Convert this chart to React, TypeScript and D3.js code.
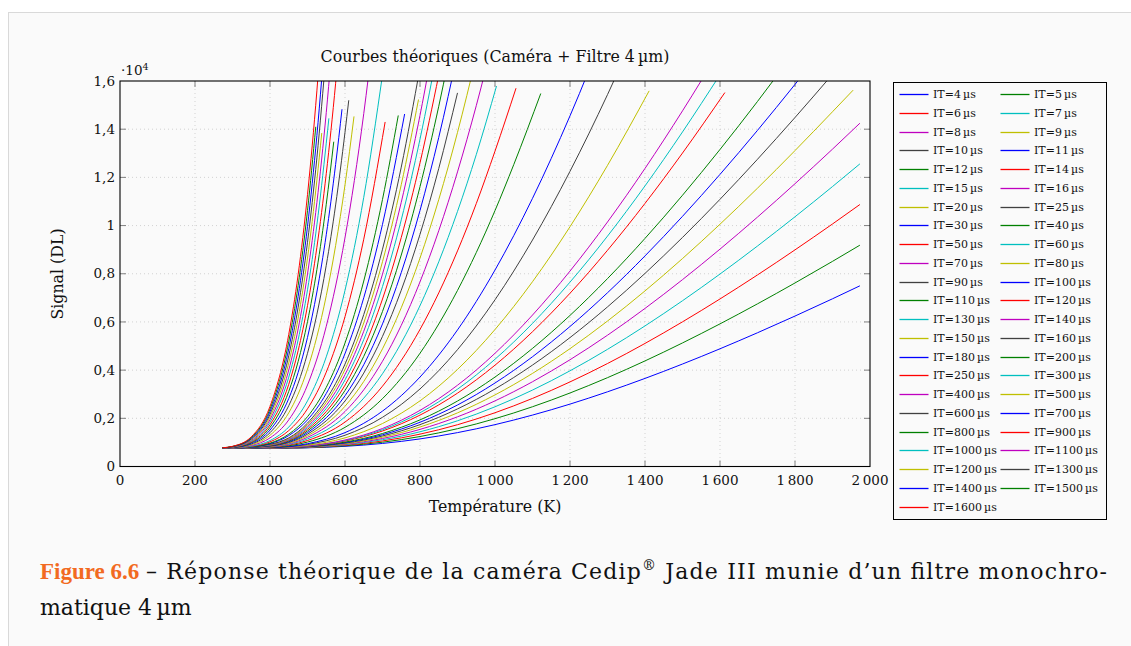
import React from 'react';
import * as d3 from 'd3';

// integration times (µs), one curve each, in legend order
const integrationTimes = [
  4, 5, 6, 7, 8, 9, 10, 11, 12, 14, 15, 16, 20, 25, 30, 40, 50, 60, 70, 80, 90, 100, 110, 120,
  130, 140, 150, 160, 180, 200, 250, 300, 400, 500, 600, 700, 800, 900, 1000, 1100, 1200, 1300,
  1400, 1500, 1600,
];

// matlab style colour cycle
const lineColors = ['#0000ff', '#008000', '#ff0000', '#00bfbf', '#bf00bf', '#bfbf00', '#404040'];

const xTicks = [0, 200, 400, 600, 800, 1000, 1200, 1400, 1600, 1800, 2000];
const yTicks = [0, 2000, 4000, 6000, 8000, 10000, 12000, 14000, 16000];

// [temperature K, signal DL]
const signalCurves: [number, number][][] = [
  /* 4 */ [[273, 750], [400, 754], [500, 776], [600, 837], [700, 957], [800, 1145], [900, 1406], [1000, 1737], [1100, 2134], [1200, 2590], [1300, 3100], [1400, 3656], [1500, 4253], [1600, 4886], [1700, 5551], [1800, 6244], [1900, 6961], [1973, 7499]],
  /* 5 */ [[273, 750], [400, 755], [500, 783], [600, 859], [700, 1008], [800, 1244], [900, 1570], [1000, 1984], [1100, 2480], [1200, 3051], [1300, 3687], [1400, 4382], [1500, 5129], [1600, 5920], [1700, 6751], [1800, 7618], [1900, 8514], [1973, 9186]],
  /* 6 */ [[273, 750], [400, 757], [500, 789], [600, 881], [700, 1060], [800, 1343], [900, 1734], [1000, 2231], [1100, 2826], [1200, 3511], [1300, 4274], [1400, 5108], [1500, 6004], [1600, 6954], [1700, 7951], [1800, 8991], [1900, 10066], [1973, 10873]],
  /* 7 */ [[273, 750], [400, 758], [500, 796], [600, 903], [700, 1112], [800, 1441], [900, 1898], [1000, 2478], [1100, 3172], [1200, 3971], [1300, 4862], [1400, 5835], [1500, 6880], [1600, 7988], [1700, 9151], [1800, 10365], [1900, 11619], [1973, 12560]],
  /* 8 */ [[273, 750], [400, 759], [500, 803], [600, 925], [700, 1163], [800, 1540], [900, 2062], [1000, 2724], [1100, 3518], [1200, 4431], [1300, 5449], [1400, 6561], [1500, 7756], [1600, 9022], [1700, 10352], [1800, 11738], [1900, 13172], [1973, 14248]],
  /* 9 */ [[273, 750], [400, 760], [500, 809], [600, 947], [700, 1215], [800, 1639], [900, 2226], [1000, 2971], [1100, 3864], [1200, 4891], [1300, 6037], [1400, 7288], [1500, 8631], [1600, 10056], [1700, 11552], [1800, 13112], [1900, 14724], [1955, 15620]],
  /* 10 */ [[273, 750], [400, 761], [500, 816], [600, 969], [700, 1267], [800, 1738], [900, 2390], [1000, 3218], [1100, 4210], [1200, 5351], [1300, 6624], [1400, 8014], [1500, 9507], [1600, 11090], [1700, 12752], [1800, 14485], [1900, 16277]],
  /* 11 */ [[273, 750], [400, 762], [500, 822], [600, 991], [700, 1318], [800, 1836], [900, 2553], [1000, 3465], [1100, 4556], [1200, 5811], [1300, 7211], [1400, 8740], [1500, 10383], [1600, 12124], [1700, 13952], [1800, 15859], [1900, 17830]],
  /* 12 */ [[273, 750], [400, 763], [500, 829], [600, 1012], [700, 1370], [800, 1935], [900, 2717], [1000, 3712], [1100, 4902], [1200, 6271], [1300, 7799], [1400, 9467], [1500, 11258], [1600, 13158], [1700, 15152], [1800, 17232]],
  /* 14 */ [[273, 750], [400, 765], [500, 842], [600, 1056], [700, 1474], [800, 2133], [900, 3045], [1000, 4205], [1100, 5594], [1200, 7191], [1300, 8974], [1400, 10920], [1500, 13010], [1613, 15520]],
  /* 15 */ [[273, 750], [400, 766], [500, 849], [600, 1078], [700, 1525], [800, 2231], [900, 3209], [1000, 4452], [1100, 5940], [1200, 7652], [1300, 9561], [1400, 11646], [1500, 13886], [1600, 16260]],
  /* 16 */ [[273, 750], [400, 767], [500, 855], [600, 1100], [700, 1577], [800, 2330], [900, 3373], [1000, 4699], [1100, 6286], [1200, 8112], [1300, 10148], [1400, 12372], [1500, 14761], [1600, 17294]],
  /* 20 */ [[273, 750], [400, 772], [500, 882], [600, 1187], [700, 1784], [800, 2725], [900, 4029], [1000, 5686], [1100, 7670], [1200, 9952], [1300, 12498], [1411, 15590]],
  /* 25 */ [[273, 750], [400, 777], [500, 915], [600, 1297], [700, 2042], [800, 3219], [900, 4849], [1000, 6920], [1100, 9400], [1200, 12253], [1300, 15435], [1400, 18910]],
  /* 30 */ [[273, 750], [400, 783], [500, 947], [600, 1406], [700, 2300], [800, 3713], [900, 5669], [1000, 8154], [1100, 11130], [1200, 14553], [1300, 18372]],
  /* 40 */ [[273, 750], [400, 794], [500, 1013], [600, 1625], [700, 2817], [800, 4700], [850, 5914], [900, 7308], [950, 8878], [1000, 10622], [1050, 12530], [1122, 15480]],
  /* 50 */ [[273, 750], [400, 804], [500, 1079], [600, 1844], [700, 3334], [800, 5688], [850, 7205], [900, 8948], [950, 10910], [1000, 13090], [1056, 15700]],
  /* 60 */ [[273, 751], [400, 815], [500, 1145], [600, 2062], [700, 3851], [750, 5128], [800, 6676], [850, 8496], [900, 10587], [950, 12942], [1004, 15790]],
  /* 70 */ [[273, 751], [400, 826], [500, 1211], [600, 2281], [650, 3182], [700, 4368], [750, 5858], [800, 7663], [850, 9787], [900, 12227], [950, 14974], [1000, 18026]],
  /* 80 */ [[273, 751], [400, 837], [500, 1277], [600, 2500], [650, 3529], [700, 4884], [750, 6588], [800, 8651], [850, 11078], [900, 13866], [950, 17006]],
  /* 90 */ [[273, 752], [400, 848], [500, 1342], [600, 2719], [650, 3877], [700, 5401], [750, 7317], [800, 9638], [850, 12369], [900, 15506]],
  /* 100 */ [[273, 752], [400, 859], [500, 1408], [600, 2937], [650, 4224], [700, 5918], [750, 8047], [800, 10626], [850, 13660], [900, 17145]],
  /* 110 */ [[273, 752], [400, 870], [500, 1474], [600, 3156], [650, 4571], [700, 6435], [750, 8777], [800, 11614], [850, 14951], [900, 18785]],
  /* 120 */ [[273, 752], [400, 881], [500, 1540], [600, 3375], [650, 4919], [700, 6952], [750, 9506], [800, 12601], [850, 16242]],
  /* 130 */ [[273, 752], [400, 892], [500, 1606], [600, 3593], [650, 5266], [700, 7468], [750, 10236], [800, 13589], [850, 17533]],
  /* 140 */ [[273, 752], [400, 902], [500, 1672], [600, 3812], [650, 5614], [700, 7985], [750, 10966], [800, 14576], [850, 18824]],
  /* 150 */ [[273, 753], [400, 913], [500, 1737], [600, 4031], [650, 5961], [700, 8502], [750, 11696], [796, 15230]],
  /* 160 */ [[273, 753], [400, 924], [500, 1803], [600, 4250], [650, 6308], [700, 9019], [750, 12425], [800, 16552]],
  /* 180 */ [[273, 753], [300, 760], [350, 804], [400, 946], [450, 1283], [500, 1935], [550, 3030], [600, 4687], [650, 7003], [700, 10052], [759, 14630]],
  /* 200 */ [[273, 753], [300, 761], [350, 810], [400, 968], [450, 1342], [500, 2067], [550, 3284], [600, 5125], [650, 7698], [700, 11086], [742, 14570]],
  /* 250 */ [[273, 754], [300, 764], [350, 825], [400, 1022], [450, 1490], [500, 2396], [550, 3917], [600, 6218], [650, 9435], [707, 14300]],
  /* 300 */ [[273, 755], [300, 766], [350, 840], [400, 1077], [450, 1638], [500, 2725], [550, 4551], [600, 7312], [650, 11172], [700, 16254]],
  /* 400 */ [[273, 757], [300, 772], [350, 871], [400, 1186], [450, 1934], [500, 3383], [550, 5818], [600, 9499], [625, 11877], [650, 14646], [675, 17820]],
  /* 500 */ [[273, 759], [300, 777], [350, 901], [400, 1295], [450, 2229], [475, 3004], [500, 4042], [525, 5388], [550, 7085], [575, 9172], [600, 11687], [624, 14530]],
  /* 600 */ [[273, 760], [300, 783], [350, 931], [400, 1403], [450, 2525], [475, 3454], [500, 4700], [525, 6316], [550, 8351], [575, 10856], [600, 13874], [610, 15200]],
  /* 700 */ [[273, 762], [300, 788], [350, 961], [400, 1512], [450, 2821], [475, 3905], [500, 5358], [525, 7243], [550, 9618], [575, 12540], [592, 14830]],
  /* 800 */ [[273, 764], [300, 794], [350, 991], [400, 1621], [450, 3117], [475, 4356], [500, 6016], [525, 8171], [550, 10885], [570, 13480]],
  /* 900 */ [[273, 765], [300, 799], [350, 1021], [400, 1730], [450, 3413], [475, 4806], [500, 6675], [525, 9098], [550, 12152], [575, 15909], [600, 20436]],
  /* 1000 */ [[273, 767], [300, 804], [350, 1051], [400, 1839], [450, 3709], [475, 5257], [500, 7333], [525, 10026], [550, 13419], [557, 14450]],
  /* 1100 */ [[273, 769], [300, 810], [350, 1082], [400, 1948], [450, 4005], [475, 5708], [500, 7991], [525, 10954], [550, 14686], [575, 19277]],
  /* 1200 */ [[273, 770], [300, 815], [350, 1112], [400, 2057], [450, 4301], [475, 6158], [500, 8650], [525, 11881], [538, 13840]],
  /* 1300 */ [[273, 772], [300, 821], [350, 1142], [400, 2166], [450, 4596], [475, 6609], [500, 9308], [525, 12809], [550, 17220]],
  /* 1400 */ [[273, 774], [300, 826], [350, 1172], [400, 2275], [450, 4892], [475, 7060], [500, 9966], [525, 13736], [550, 18487]],
  /* 1500 */ [[273, 776], [300, 832], [350, 1202], [400, 2384], [450, 5188], [475, 7511], [500, 10625], [522, 14100]],
  /* 1600 */ [[273, 777], [300, 837], [350, 1232], [400, 2493], [450, 5484], [475, 7961], [500, 11283], [525, 15592], [550, 21020]],
];

const font = "'DejaVu Serif', serif";

const App = () => {
  const left = 120, right = 870, top = 81, bottom = 466.5;

  const x = d3.scaleLinear().domain([0, 2000]).range([left, right]);
  const y = d3.scaleLinear().domain([0, 16000]).range([bottom, top]);

  const line = d3.line<[number, number]>()
    .x(d => x(d[0]))
    .y(d => y(d[1]))
    .curve(d3.curveMonotoneX);

  const fmtX = (v: number) =>
    v >= 1000 ? `${Math.floor(v / 1000)}\u2009${String(v % 1000).padStart(3, '0')}` : String(v);
  const fmtY = (v: number) => String(v / 10000).replace('.', ',');

  // legend: 2 columns
  const legX = 893.5, legY = 82.5, legW = 213, legH = 437;
  const rowH = 18.75;

  return (
    <svg width={1131} height={646} style={{ position: 'absolute', left: 0, top: 0 }} fontFamily={font}>
      <rect x={0} y={0} width={1131} height={646} fill="#ffffff" />
      <rect x={8.5} y={12.5} width={1200} height={700} fill="#fafafa" stroke="#d9d9d9" />

      <defs>
        <clipPath id="plot-clip">
          <rect x={left} y={top} width={right - left} height={bottom - top} />
        </clipPath>
      </defs>

      {/* grid */}
      <g stroke="#c8c8c8" strokeWidth={0.8} strokeDasharray="1,3">
        {xTicks.slice(1, -1).map(t => (
          <line key={'gx' + t} x1={x(t)} x2={x(t)} y1={top} y2={bottom} />
        ))}
        {yTicks.slice(1, -1).map(t => (
          <line key={'gy' + t} x1={left} x2={right} y1={y(t)} y2={y(t)} />
        ))}
      </g>

      {/* ticks, inside on all four sides */}
      <g stroke="#808080" strokeWidth={1}>
        {xTicks.slice(1, -1).map(t => (
          <g key={'tx' + t}>
            <line x1={x(t)} x2={x(t)} y1={bottom} y2={bottom - 6} />
            <line x1={x(t)} x2={x(t)} y1={top} y2={top + 6} />
          </g>
        ))}
        {yTicks.slice(1, -1).map(t => (
          <g key={'ty' + t}>
            <line x1={left} x2={left + 6} y1={y(t)} y2={y(t)} />
            <line x1={right} x2={right - 6} y1={y(t)} y2={y(t)} />
          </g>
        ))}
      </g>

      {/* curves */}
      <g clipPath="url(#plot-clip)" fill="none" strokeWidth={1}>
        {signalCurves.map((pts, i) => (
          <path key={integrationTimes[i]} d={line(pts) ?? ''} stroke={lineColors[i % lineColors.length]} />
        ))}
      </g>

      <rect x={left} y={top} width={right - left} height={bottom - top} fill="none" stroke="#000" strokeWidth={1.1} />

      {/* tick labels */}
      <g fontSize={13.5} fill="#111">
        {xTicks.map(t => (
          <text key={'lx' + t} x={x(t)} y={bottom + 18} textAnchor="middle">{fmtX(t)}</text>
        ))}
        {yTicks.map(t => (
          <text key={'ly' + t} x={left - 5} y={y(t)} dy="0.35em" textAnchor="end">{fmtY(t)}</text>
        ))}
      </g>
      <text x={left + 1} y={top - 6} fontSize={13.5} fill="#111">
        ·10<tspan fontSize={9.5} dy={-5}>4</tspan>
      </text>

      {/* titles */}
      <text x={(left + right) / 2} y={62} textAnchor="middle" fontSize={15.8} fill="#111">
        Courbes théoriques (Caméra + Filtre 4{'\u2009'}µm)
      </text>
      <text x={(left + right) / 2} y={512} textAnchor="middle" fontSize={15.8} fill="#111">
        Température (K)
      </text>
      <text transform={`translate(63,274) rotate(-90)`} textAnchor="middle" fontSize={15.8} fill="#111">
        Signal (DL)
      </text>

      {/* legend */}
      <rect x={legX} y={legY} width={legW} height={legH} fill="#fafafa" stroke="#000" strokeWidth={1} />
      {integrationTimes.map((it, i) => {
        const col = i % 2;
        const row = Math.floor(i / 2);
        const lx = legX + 6 + col * 101;
        const ly = Math.round(94 + row * rowH) + 0.5;
        return (
          <g key={'leg' + it}>
            <line x1={lx} x2={lx + 29} y1={ly} y2={ly} stroke={lineColors[i % lineColors.length]} strokeWidth={1.3} />
            <text x={lx + 33.5} y={ly} dy="0.35em" fontSize={11} fill="#111">
              IT={it}{'\u2009'}µs
            </text>
          </g>
        );
      })}

      {/* caption */}
      <g fontSize={22} fill="#111">
        <text x={40} y={579} fill="#f26a21" fontWeight="bold" fontFamily="'Liberation Serif', serif" fontSize={23}>
          Figure 6.6
        </text>
        <text x={146} y={579} textLength={961} lengthAdjust="spacing">
          – Réponse théorique de la caméra Cedip
          <tspan fontSize={14} dy={-9}>®</tspan>
          <tspan dy={9}> Jade III munie d’un filtre monochro-</tspan>
        </text>
        <text x={40} y={615}>
          matique 4{'\u2009'}µm
        </text>
      </g>
    </svg>
  );
};

export default App;
